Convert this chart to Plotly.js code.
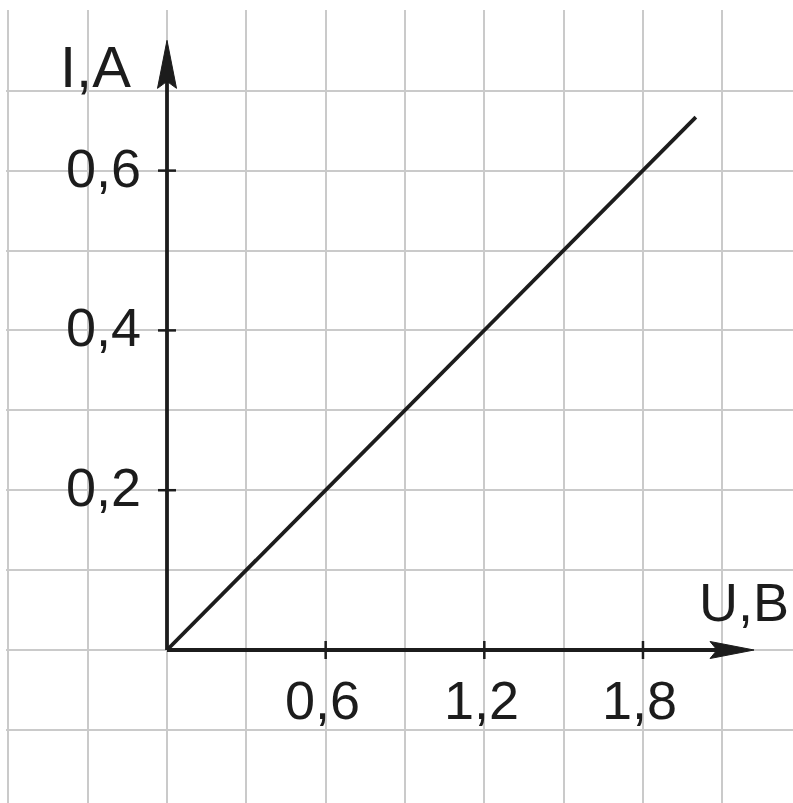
<!DOCTYPE html>
<html>
<head>
<meta charset="utf-8">
<script src="https://cdn.plot.ly/plotly-3.0.1.min.js"></script>
<style>
  html, body { margin: 0; padding: 0; background: #ffffff; }
  #chart { width: 793px; height: 803px; }
</style>
</head>
<body>
<div id="chart"></div>
<script>
// Current through a resistor versus voltage: I = U / R
const U = [0, 2.0];          // voltage, V
const I = [0, 0.667];        // current, A

const xTickVals = [0.6, 1.2, 1.8];
const xTickText = ['0,6', '1,2', '1,8'];
const yTickVals = [0.2, 0.4, 0.6];
const yTickText = ['0,2', '0,4', '0,6'];

const xTitle = 'U,B';
const yTitle = 'I,A';

// where the arrowed axes end (axis units)
const xAxisEnd = 2.22;
const yAxisEnd = 0.763;

// --- page geometry -------------------------------------------------------
const W = 793, H = 803;
const margin = { l: 6, r: 0, t: 10, b: 0 };
const originPx = { x: 167, y: 650 };   // where U = 0, I = 0 sits on the page
const pxPerU = 79.33 / 0.3;             // one grid cell = 0.3 V
const pxPerI = 79.9 / 0.1;              // one grid cell = 0.1 A

const xRange = [(margin.l - originPx.x) / pxPerU, (W - margin.r - originPx.x) / pxPerU];
const yRange = [-(H - margin.b - originPx.y) / pxPerI, (originPx.y - margin.t) / pxPerI];

const ink = '#1c1c1c';
const gridColor = '#cacaca';
const font = { family: 'Liberation Sans, Arial, sans-serif', size: 54, color: ink };
const titleFont = { family: 'Liberation Sans, Arial, sans-serif', size: 58, color: ink };

const headLen = 44;   // arrowhead length in px

const shapes = [];

// axes
shapes.push({ type: 'line', xref: 'x', yref: 'y',
  x0: 0, y0: 0, x1: xAxisEnd - (headLen - 8) / pxPerU, y1: 0,
  line: { color: ink, width: 3.8 } });
shapes.push({ type: 'line', xref: 'x', yref: 'y',
  x0: 0, y0: 0, x1: 0, y1: yAxisEnd - (headLen - 6) / pxPerI,
  line: { color: ink, width: 3.8 } });

// arrowheads, drawn in pixels around the axis tips
shapes.push({ type: 'path', xref: 'x', yref: 'y',
  xsizemode: 'pixel', ysizemode: 'pixel', xanchor: xAxisEnd, yanchor: 0,
  path: 'M0,0L-' + headLen + ',8.5L-' + (headLen - 7) + ',0L-' + headLen + ',-8.5Z',
  fillcolor: ink, line: { color: ink, width: 1 } });
shapes.push({ type: 'path', xref: 'x', yref: 'y',
  xsizemode: 'pixel', ysizemode: 'pixel', xanchor: 0, yanchor: yAxisEnd,
  path: 'M0,0L-9.5,-' + (headLen + 4) + 'L0,-' + (headLen - 3) + 'L9.5,-' + (headLen + 4) + 'Z',
  fillcolor: ink, line: { color: ink, width: 1 } });

// tick crosses
xTickVals.forEach(function (v) {
  shapes.push({ type: 'line', xref: 'x', yref: 'y', ysizemode: 'pixel', yanchor: 0,
    x0: v, x1: v, y0: -9, y1: 9, line: { color: ink, width: 2.5 } });
});
yTickVals.forEach(function (v) {
  shapes.push({ type: 'line', xref: 'x', yref: 'y', xsizemode: 'pixel', xanchor: 0,
    y0: v, y1: v, x0: -9, x1: 9, line: { color: ink, width: 2.5 } });
});

const annotations = [];
xTickVals.forEach(function (v, i) {
  annotations.push({ x: v, y: 0, xref: 'x', yref: 'y', text: xTickText[i],
    showarrow: false, xanchor: 'center', yanchor: 'middle', xshift: -3, yshift: -50, font: font });
});
yTickVals.forEach(function (v, i) {
  annotations.push({ x: 0, y: v, xref: 'x', yref: 'y', text: yTickText[i],
    showarrow: false, xanchor: 'right', yanchor: 'middle', xshift: -24, yshift: 3, font: font });
});
annotations.push({ x: xAxisEnd, y: 0, xref: 'x', yref: 'y', text: xTitle,
  showarrow: false, xanchor: 'center', yanchor: 'middle', xshift: -10, yshift: 48, font: font });
annotations.push({ x: 0, y: yAxisEnd, xref: 'x', yref: 'y', text: yTitle,
  showarrow: false, xanchor: 'right', yanchor: 'middle', xshift: -34, yshift: -26, font: titleFont });

const traces = [{
  type: 'scatter', mode: 'lines', x: U, y: I,
  line: { color: ink, width: 3.8 }, hoverinfo: 'skip', showlegend: false
}];

const layout = {
  width: W, height: H,
  margin: margin,
  paper_bgcolor: '#ffffff', plot_bgcolor: '#ffffff',
  showlegend: false,
  xaxis: { range: xRange, tick0: 0, dtick: 0.3, showgrid: true, gridcolor: gridColor, gridwidth: 2,
           zeroline: false, showticklabels: false, ticks: '', showline: false, fixedrange: true },
  yaxis: { range: yRange, tick0: 0, dtick: 0.1, showgrid: true, gridcolor: gridColor, gridwidth: 2,
           zeroline: false, showticklabels: false, ticks: '', showline: false, fixedrange: true },
  shapes: shapes,
  annotations: annotations
};

Plotly.newPlot('chart', traces, layout, { staticPlot: true, displayModeBar: false });
</script>
</body>
</html>
